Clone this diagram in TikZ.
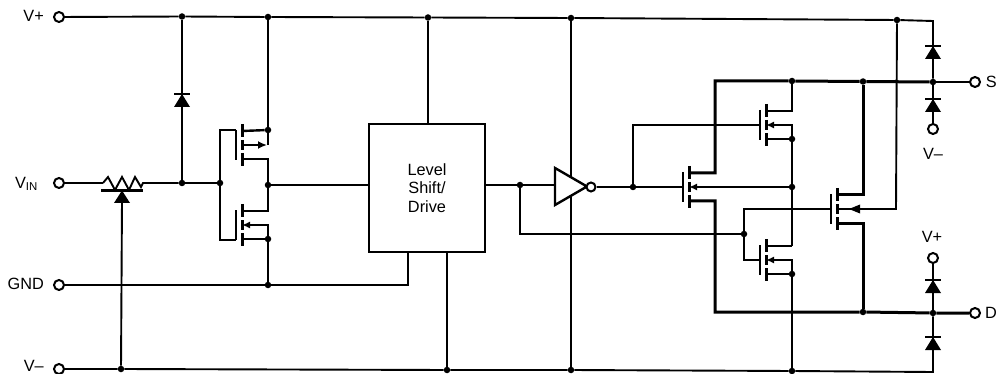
\documentclass[tikz,border=0pt]{standalone}
\usepackage{fontspec}
\setmainfont{Liberation Sans}
\usetikzlibrary{arrows.meta}
\tikzset{
  wire/.style={line width=1.9pt,line join=miter},
  stub/.style={line width=2.4pt,line join=miter},
  bus/.style={line width=3pt,line join=miter},
  tip/.style={{Latex[length=8pt,width=7pt]}-},
  jdot/.style={circle,fill=black,inner sep=0pt,minimum size=6.5pt},
  term/.style={circle,draw,fill=white,line width=2pt,inner sep=0pt,minimum size=10pt},
  lbl/.style={inner sep=0pt,font=\fontsize{16.3}{18.5}\selectfont},
  pics/diode/.style={code={
    \fill (-8,13)--(8,13)--(0,0)--cycle;
    \draw[line width=1.8pt] (-8,0)--(8,0);
  }},
  pics/mosfet/.style={code={
    \draw[line width=2pt] (0,-15)--(0,15);
    \draw[line width=3pt] (6,-21)--(6,-8);
    \draw[line width=3pt] (6,-5)--(6,5);
    \draw[line width=3pt] (6,8)--(6,21);
    \coordinate (-g) at (0,0);
    \coordinate (-gt) at (0,-15);
    \coordinate (-gb) at (0,15);
    \coordinate (-d) at (6,-14);
    \coordinate (-b) at (6,0);
    \coordinate (-s) at (6,14);
  }},
}
\begin{document}
\begin{tikzpicture}[x=1pt,y=-1pt]
  \useasboundingbox (0,0) rectangle (998,374);
  % terminals
  \node[term] (vplus) at (59,17) {};
  \node[term] (vin) at (59,183) {};
  \node[term] (gnd) at (59,285) {};
  \node[term] (vminus) at (59,369) {};
  \node[term] (outs) at (975,82) {};
  \node[term] (outd) at (975,313) {};
  \node[term] (clampn) at (933,129) {};
  \node[term] (clampp) at (933,258) {};
  \node[lbl,anchor=east] (lvplus) at (44,16) {V+};
  \node[lbl,anchor=east] (lvin) at (38,184) {V\textsubscript{IN}};
  \node[lbl,anchor=east] (lgnd) at (44,284) {GND};
  \node[lbl,anchor=east] (lvminus) at (44,366) {V–};
  \node[lbl,anchor=east] (ls) at (997,82) {S};
  \node[lbl,anchor=east] (ld) at (997,313) {D};
  \node[lbl] (lclampn) at (933,154) {V–};
  \node[lbl] (lclampp) at (932,237) {V+};
  % level shifter
  \node[draw,line width=1.9pt,minimum width=116pt,minimum height=128pt,inner sep=0pt,
    lbl,align=center] (shift) at (427,188) {Level\\Shift/\\Drive};
  % junctions on the rails
  \node[jdot] (t1) at (182,16.5) {};
  \node[jdot] (t2) at (268,17) {};
  \node[jdot] (t3) at (428,17.5) {};
  \node[jdot] (t4) at (571,18) {};
  \node[jdot] (t5) at (897,20) {};
  \coordinate (t6) at (933,21);
  \node[jdot] (b1) at (121,369) {};
  \node[jdot] (b2) at (447,370) {};
  \node[jdot] (b3) at (571,370) {};
  \node[jdot] (b4) at (792,371) {};
  \coordinate (b5) at (933,372);
  \node[jdot] (g1) at (268,285) {};
  \node[jdot] (in1) at (182,183) {};
  \node[jdot] (in2) at (220,183) {};
  \node[jdot] (o1) at (268,185) {};
  \node[jdot] (m1a) at (268,130) {};
  \node[jdot] (m2a) at (268,239) {};
  \node[jdot] (sh1) at (520,185) {};
  \node[jdot] (inv1) at (633,187) {};
  \node[jdot] (s1) at (792,81) {};
  \node[jdot] (s2) at (863,81.5) {};
  \node[jdot] (s3) at (933,82) {};
  \node[jdot] (d1) at (863,312) {};
  \node[jdot] (d2) at (933,313) {};
  \node[jdot] (n1) at (792,139) {};
  \node[jdot] (n2) at (792,187) {};
  \node[jdot] (n3) at (792,274) {};
  \node[jdot] (c1) at (744,234) {};
  % rails
  \draw[wire] (vplus)--(t1)--(t2)--(t3)--(t4)--(t5)--(t6)--(s3);
  \draw[wire] (vminus)--(b1)--(b2)--(b3)--(b4)--(b5)--(d2);
  \draw[wire] (gnd)--(g1)--(408,285)--(408,252);
  \draw[wire] (b2)--(447,252);
  \draw[wire] (t3)--(428,124);
  \draw[wire] (t4)--(b3);
  % input stage
  \draw[wire] (vin)--(103,183);
  \draw[wire] (103,183)--(108,177)--(115,190)--(122,177)--(129,190)--(135,177)--(141,187)--(143,183)--(in1);
  \draw[line width=2.2pt] (101,190.5)--(143,190.5);
  \fill (122,190.5)--(114,203)--(130,203)--cycle;
  \draw[wire] (122,200)--(b1);
  \draw[wire] (t1)--(in1)--(in2);
  \pic at (182,94) {diode};
  \pic (ma) at (236,145) {mosfet};
  \pic (mb) at (236,225) {mosfet};
  \draw[wire] (ma-gt)--(220,130)--(in2)--(220,240)--(mb-gb);
  \draw[wire] (t2)--(m1a)--(268,145);
  \draw[stub] (ma-d)--(m1a);
  \draw[stub,-{Latex[length=9pt,width=8pt]}] (ma-b)--(267,145);
  \draw[stub] (ma-s)--(268,159)--(o1);
  \draw[stub] (o1)--(268,211)--(mb-d);
  \draw[stub,tip] (mb-b)--(268,225)--(m2a);
  \draw[stub] (mb-s)--(m2a)--(g1);
  \draw[wire] (o1)--(369,185);
  % inverter
  \draw[wire] (485,185)--(sh1)--(555,185);
  \draw[wire] (sh1)--(520,234)--(c1);
  \draw[line width=2.4pt,fill=white,line join=miter] (555,168)--(555,205)--(587,186.5)--cycle;
  \node[term,minimum size=9pt] (bub) at (591,187) {};
  \draw[wire] (bub)--(inv1)--(683,187);
  % output switches
  \pic (mc) at (760,125) {mosfet};
  \pic (md) at (683,187) {mosfet};
  \pic (me) at (831,209) {mosfet};
  \pic (mf) at (760,260) {mosfet};
  \draw[wire] (inv1)--(633,125)--(mc-g);
  \draw[stub] (mc-d)--(792,111)--(s1);
  \draw[stub,tip] (mc-b)--(792,125)--(n1);
  \draw[stub] (mc-s)--(n1);
  \draw[wire] (n1)--(n2)--(792,246);
  \draw[stub] (792,246)--(mf-d);
  \draw[wire,tip] (md-b)--(n2);
  \draw[bus] (md-d)--(715,173)--(715,81)--(s1)--(s2)--(s3);
  \draw[wire] (s3)--(outs);
  \draw[bus] (md-s)--(715,201)--(715,312)--(d1)--(d2)--(outd);
  \draw[bus] (me-d)--(863,195)--(s2);
  \draw[bus] (me-s)--(863,223)--(d1);
  \draw[wire] (me-b)--(896,209)--(t5);
  \fill (849,209)--(860,204.5)--(860,213.5)--cycle;
  \draw[wire] (me-g)--(744,209)--(c1)--(744,260)--(mf-g);
  \draw[stub,tip] (mf-b)--(792,260)--(n3);
  \draw[stub] (mf-s)--(n3);
  \draw[wire] (n3)--(b4);
  % clamp diodes
  \draw[wire] (s3)--(clampn);
  \draw[wire] (clampp)--(d2);
  \pic at (933,46) {diode};
  \pic at (933,99) {diode};
  \pic at (933,280) {diode};
  \pic at (933,337) {diode};
\end{tikzpicture}
\end{document}
